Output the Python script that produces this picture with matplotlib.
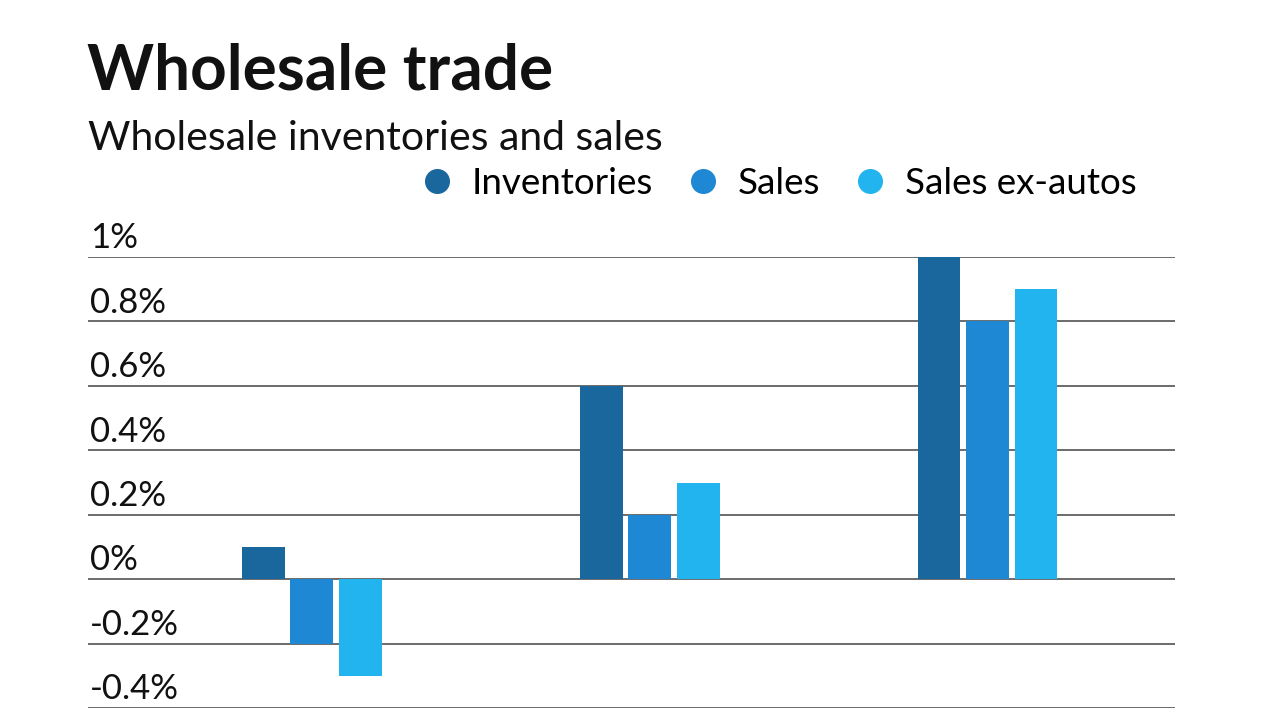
import matplotlib.pyplot as plt
import numpy as np
from matplotlib.lines import Line2D

plt.rcParams['font.family'] = ['Lato', 'DejaVu Sans']

# Data (percent change)
groups = ['A', 'B', 'C']
series = ['Inventories', 'Sales', 'Sales ex-autos']
inventories = [0.1, 0.6, 1.0]
sales = [-0.2, 0.2, 0.8]
sales_ex_autos = [-0.3, 0.3, 0.9]
yticks = [-0.4, -0.2, 0, 0.2, 0.4, 0.6, 0.8, 1.0]
ytick_labels = ['-0.4%', '-0.2%', '0%', '0.2%', '0.4%', '0.6%', '0.8%', '1%']

colors = ['#1a679e', '#1e88d4', '#22b4ef']

fig = plt.figure(figsize=(12.8, 7.2), dpi=100)
ax = fig.add_axes([0.069, 0.0167, 0.849, 0.6263])

x = np.arange(len(groups))
width = 0.127
step = 0.1435
for i, (vals, c) in enumerate(zip([inventories, sales, sales_ex_autos], colors)):
    ax.bar(x + (i - 1) * step, vals, width, color=c, zorder=3)

ax.set_xlim(-0.661, 2.555)
ax.set_ylim(-0.4, 1.0)
ax.set_yticks(yticks)
ax.set_yticklabels([])
ax.set_xticks([])
ax.tick_params(left=False, bottom=False)
for s in ax.spines.values():
    s.set_visible(False)
for v in yticks:
    ax.axhline(v, color='#444444', lw=1.1, zorder=1)
for v, lab in zip(yticks, ytick_labels):
    ax.annotate(lab, (0, v), xycoords=ax.get_yaxis_transform(),
                xytext=(1, 2), textcoords='offset points',
                ha='left', va='bottom', fontsize=25, color='#111111')

fig.text(0.068, 0.876, 'Wholesale trade', fontsize=46, fontweight='bold',
         ha='left', va='baseline', color='#111111')
fig.text(0.069, 0.792, 'Wholesale inventories and sales', fontsize=29.5,
         ha='left', va='baseline', color='#111111')

handles = [Line2D([], [], marker='o', linestyle='', markersize=17,
                  markerfacecolor=c, markeredgecolor=c) for c in colors]
fig.legend(handles, series, loc='center right', bbox_to_anchor=(0.902, 0.745),
           ncol=3, frameon=False, fontsize=26.5, handletextpad=0.45,
           columnspacing=0.85, handlelength=1.0, borderpad=0)

fig.savefig('out.png', dpi=100)
